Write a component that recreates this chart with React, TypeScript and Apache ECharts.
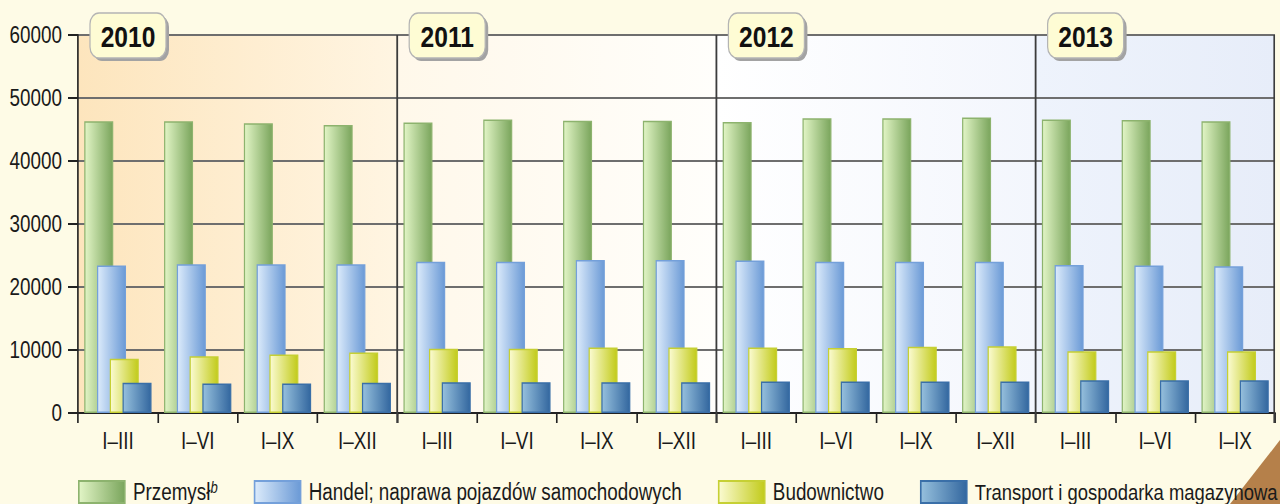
import React, { useEffect, useRef } from 'react';
import * as echarts from 'echarts';

const years = ['2010', '2011', '2012', '2013'];
const periods = ['I–III', 'I–VI', 'I–IX', 'I–XII'];
const periodsPerYear = [4, 4, 4, 3];
const seriesNames = [
  'Przemysł',
  'Handel; naprawa pojazdów samochodowych',
  'Budownictwo',
  'Transport i gospodarka magazynowa',
];
const przemysl = [46300, 46300, 46000, 45700, 46100, 46600, 46400, 46400, 46200, 46800, 46800, 46900, 46600, 46500, 46300];
const handel = [23400, 23600, 23600, 23600, 24000, 24000, 24300, 24300, 24200, 24000, 24000, 24000, 23500, 23400, 23300];
const budownictwo = [8600, 9000, 9300, 9600, 10200, 10200, 10400, 10400, 10400, 10300, 10500, 10600, 9800, 9800, 9800];
const transport = [4800, 4700, 4700, 4800, 4900, 4900, 4900, 4900, 5000, 5000, 5000, 5000, 5200, 5200, 5200];
const yMin = 0;
const yMax = 60000;
const yInterval = 10000;

const categories: string[] = [];
years.forEach((y, i) => {
  for (let k = 0; k < periodsPerYear[i]; k++) categories.push(y + ' ' + periods[k]);
});

// The reference uses a narrow face; emulate it by compressing the chart horizontally.
const SX = 0.82;
const PAGE_W = 1280;
const PAGE_H = 504;
const CHART_W = Math.round(PAGE_W / SX);
const h = (v: number) => v / SX; // horizontal size in chart space

const FONT = '"Liberation Sans", Arial, sans-serif';

const lg = (c0: string, c1: string) =>
  new echarts.graphic.LinearGradient(0, 0, 1, 0, [
    { offset: 0, color: c0 },
    { offset: 1, color: c1 },
  ]);

const seriesStyles = [
  { c0: '#e2f5c6', c1: '#7aa55c', border: '#8db36e' },
  { c0: '#dcebfb', c1: '#6b9ad6', border: '#74a0da' },
  { c0: '#fbfbd2', c1: '#c2cb1a', border: '#c6d034' },
  { c0: '#96c0dd', c1: '#33679f', border: '#3a6fa8' },
];
const seriesData = [przemysl, handel, budownictwo, transport];

const yearBg = [
  ['#fde5bd', '#fff5e2'],
  ['#fff8ea', '#fffefb'],
  ['#ffffff', '#f3f6fd'],
  ['#eef3fc', '#e7edf9'],
];

export default function App() {
  const ref = useRef<HTMLDivElement>(null);
  useEffect(() => {
    document.body.style.margin = '0';
    const chart = echarts.init(ref.current!, undefined, { renderer: 'svg' });
    chart.setOption({
      animation: false,
      backgroundColor: '#fefbe6',
      grid: { left: h(78), right: h(5), top: 35, bottom: 91, outerBoundsMode: 'none', containLabel: false },
      xAxis: {
        type: 'category',
        data: categories,
        axisLine: { lineStyle: { color: '#222', width: 2 } },
        axisTick: { show: true, interval: 0, length: 10, lineStyle: { color: '#222', width: 2 } },
        axisLabel: {
          interval: 0,
          margin: 16,
          fontFamily: FONT,
          fontSize: 23,
          color: '#1a1a1a',
          formatter: (v: string) => v.split(' ')[1],
        },
        splitLine: { show: false },
      },
      yAxis: {
        type: 'value',
        min: yMin,
        max: yMax,
        interval: yInterval,
        axisLine: { show: true, lineStyle: { color: '#222', width: 2 } },
        axisTick: { show: true, length: h(10), lineStyle: { color: '#222', width: 2 } },
        axisLabel: { margin: h(16), fontFamily: FONT, fontSize: 23, color: '#1a1a1a', formatter: (v: number) => String(v) },
        splitLine: { show: true, lineStyle: { color: '#6e6e6e', width: 2 } },
      },
      legend: {
        left: h(78),
        top: 480,
        width: h(1300),
        padding: 0,
        z: 20,
        itemWidth: h(46),
        itemHeight: 22,
        itemGap: h(36),
        icon: 'rect',
        data: seriesNames.map((n, i) =>
          i === seriesNames.length - 1 ? { name: n, textStyle: { fontSize: 22.5 } } : { name: n }
        ),
        formatter: (n: string) => (n === seriesNames[0] ? n + '{sup|b}' : n),
        textStyle: {
          fontFamily: FONT,
          fontSize: 23,
          lineHeight: 24,
          color: '#1a1a1a',
          padding: [0, 0, 0, h(4)],
          rich: {
            sup: { fontFamily: FONT, fontSize: 16, lineHeight: 16, fontStyle: 'italic', verticalAlign: 'top' },
          },
        },
      },
      series: seriesNames.map((name, i) => ({
        name,
        type: 'bar',
        data: seriesData[i],
        barWidth: h(29),
        barGap: '-56%',
        itemStyle: {
          color: lg(seriesStyles[i].c0, seriesStyles[i].c1),
          borderColor: seriesStyles[i].border,
          borderWidth: 1.5,
        },
      })),
    });

    const px = (c: string) => chart.convertToPixel({ xAxisIndex: 0 }, c) as number;
    const band = px(categories[1]) - px(categories[0]);
    const topY = chart.convertToPixel({ yAxisIndex: 0 }, yMax) as number;
    const botY = chart.convertToPixel({ yAxisIndex: 0 }, yMin) as number;
    const graphics: any[] = [];
    const labels: any[] = [];
    graphics.push({
      type: 'polygon',
      z: -20,
      silent: true,
      shape: { points: [[h(1230), PAGE_H], [CHART_W + 2, 438], [CHART_W + 2, PAGE_H]] },
      style: { fill: '#b5804a' },
    });
    let idx = 0;
    years.forEach((y, i) => {
      const left = px(categories[idx]) - band / 2;
      const right = px(categories[idx + periodsPerYear[i] - 1]) + band / 2;
      idx += periodsPerYear[i];
      graphics.push({
        type: 'rect',
        z: -10,
        silent: true,
        shape: { x: left, y: topY, width: right - left, height: botY - topY },
        style: { fill: lg(yearBg[i][0], yearBg[i][1]) },
      });
      if (i > 0) {
        graphics.push({
          type: 'line',
          z: 5,
          silent: true,
          shape: { x1: left, y1: topY, x2: left, y2: botY + 10 },
          style: { stroke: '#3c3c3c', lineWidth: 2.2 },
        });
      }
      labels.push({
        type: 'group',
        z: 10,
        x: left + h(12),
        y: topY - 22,
        children: [
          { type: 'rect', shape: { x: h(3), y: 3, width: h(76), height: 45, r: 11 }, style: { fill: '#a3a3a3' } },
          {
            type: 'rect',
            shape: { x: 0, y: 0, width: h(76), height: 45, r: 11 },
            style: { fill: '#fefcd4', stroke: '#b4b4b4', lineWidth: 1.5 },
          },
          {
            type: 'text',
            x: h(38),
            y: 24,
            style: {
              text: y,
              fontFamily: FONT,
              fontWeight: 'bold',
              fontSize: 30,
              fill: '#111',
              align: 'center',
              verticalAlign: 'middle',
            },
          },
        ],
      });
    });
    graphics.push({
      type: 'line',
      z: 5,
      silent: true,
      shape: { x1: px(categories[categories.length - 1]) + band / 2 - 1, y1: topY, x2: px(categories[categories.length - 1]) + band / 2 - 1, y2: botY + 10 },
      style: { stroke: '#3c3c3c', lineWidth: 2 },
    });
    graphics.push(...labels);
    chart.setOption({ graphic: graphics });
    return () => chart.dispose();
  }, []);
  return (
    <div style={{ width: PAGE_W, height: PAGE_H, overflow: 'hidden', position: 'relative' }}>
      <div
        ref={ref}
        style={{ width: CHART_W, height: PAGE_H, transform: `scaleX(${SX})`, transformOrigin: '0 0' }}
      />
    </div>
  );
}
